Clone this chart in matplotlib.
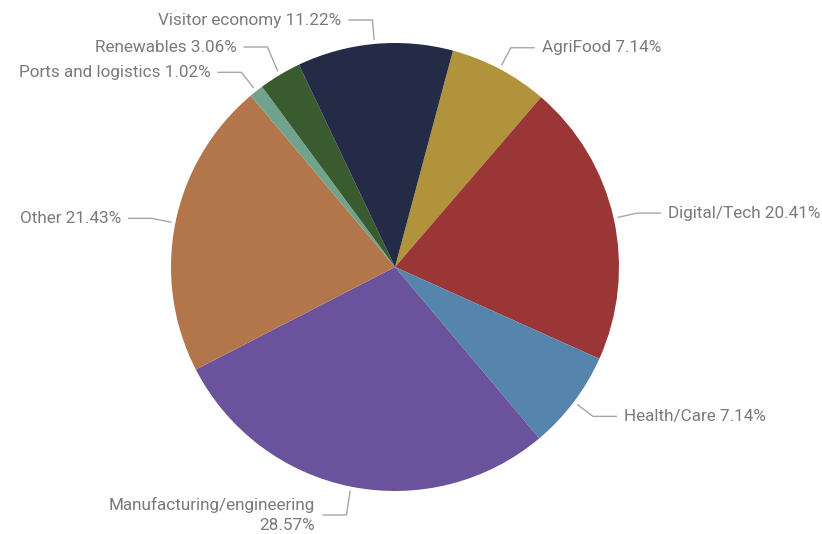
import numpy as np
import matplotlib.pyplot as plt

sectors = ['AgriFood', 'Digital/Tech', 'Health/Care', 'Manufacturing/engineering',
           'Other', 'Ports and logistics', 'Renewables', 'Visitor economy']
shares = [7.14, 20.41, 7.14, 28.57, 21.43, 1.02, 3.06, 11.22]
colors = ['#B0933A', '#9A3636', '#5584AC', '#6A539C',
          '#B3764B', '#70A38D', '#3A5B2F', '#242B47']

W, H = 822, 534
fig = plt.figure(figsize=(W / 100, H / 100), dpi=100)
ax = fig.add_axes([0, 0, 1, 1])

# work in pixel units with y measured from the top
cx, cy, r = 395, 267, 224
start = 15  # degrees clockwise from 12 o'clock

ax.pie(shares, colors=colors, center=(cx, H - cy), radius=r,
       startangle=90 - start, counterclock=False,
       wedgeprops=dict(linewidth=0), frame=True)
ax.set_xlim(0, W)
ax.set_ylim(0, H)
ax.set_aspect('equal')
ax.axis('off')

# label y overrides where labels are pushed apart
y_fix = {'Renewables': 47, 'Visitor economy': 20, 'Manufacturing/engineering': 515}
txt_col = '#7a7a7a'
line_col = '#a6a6a6'

cum = start
for name, val in zip(sectors, shares):
    mid = np.radians(cum + val * 3.6 / 2)
    cum += val * 3.6
    dx, dy = np.sin(mid), -np.cos(mid)
    x0, y0 = cx + (r + 4) * dx, cy + (r + 4) * dy
    x1, y1 = cx + (r + 24) * dx, cy + (r + 24) * dy
    y1 = y_fix.get(name, y1)
    side = 1 if dx > 0 else -1
    x2 = x1 + side * 24
    ax.plot([x0, x1, x2], [H - y0, H - y1, H - y1], color=line_col, lw=1,
            solid_capstyle='butt')
    label = f'{name} {val:.2f}%'
    if name == 'Manufacturing/engineering':
        label = f'{name}\n{val:.2f}%'
    ax.text(x2 + side * 7, H - y1, label, color=txt_col, fontsize=12.3, family='Roboto',
            ha='left' if side > 0 else 'right', va='center', multialignment='right',
            linespacing=1.35)

fig.savefig('out.png', dpi=100, facecolor='white')
